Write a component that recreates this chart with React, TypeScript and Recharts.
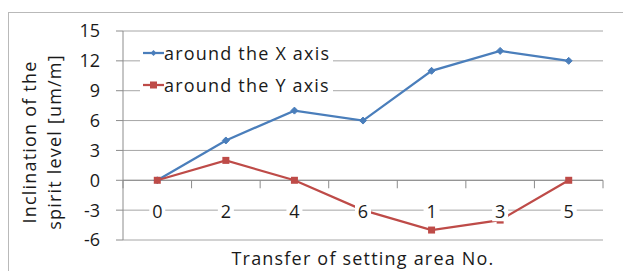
import React from 'react';
import {
  LineChart,
  Line,
  XAxis,
  YAxis,
  CartesianGrid,
  ReferenceLine,
  Label,
} from 'recharts';

const categories = ['0', '2', '4', '6', '1', '3', '5'];
const aroundX = [0, 4, 7, 6, 11, 13, 12];
const aroundY = [0, 2, 0, -3, -5, -4, 0];
const yTicks = [-6, -3, 0, 3, 6, 9, 12, 15];
const seriesNames = ['around the X axis', 'around the Y axis'];

const data = categories.map((c, i) => ({ area: c, x: aroundX[i], y: aroundY[i] }));

const FONT = '"Open Sans", sans-serif';
const FS = 18;
const SPACING = 1.2;
const BLUE = '#4a7ebb';
const RED = '#be4b48';
const GRID = '#a6a6a6';
const AXIS = '#8c8c8c';
const TEXT = '#1a1a1a';

const W = 623;
const H = 271;
const TOP = 31;
const BOTTOM = 31;
const PLOT_H = H - TOP - BOTTOM;
const Y_MIN = -6;
const Y_MAX = 15;

const Diamond = (props: any) => {
  const { cx, cy, index } = props;
  if (cx == null || cy == null) return <g key={index} />;
  return (
    <path
      key={index}
      d={`M${cx},${cy - 3.5}L${cx + 3.5},${cy}L${cx},${cy + 3.5}L${cx - 3.5},${cy}Z`}
      fill={BLUE}
      stroke={BLUE}
    />
  );
};

const Square = (props: any) => {
  const { cx, cy, index } = props;
  if (cx == null || cy == null) return <g key={index} />;
  return <rect key={index} x={cx - 3.5} y={cy - 3.5} width={7} height={7} fill={RED} />;
};

// category labels sit one step below the zero line, tick marks go on the zero line
const CategoryTick = (props: any) => {
  const { x, y, payload, index } = props;
  const half = payload?.offset ?? (W - 123 - 20) / categories.length / 2;
  const zeroY = y - ((0 - Y_MIN) / (Y_MAX - Y_MIN)) * PLOT_H;
  const labelY = zeroY + 31;
  return (
    <g>
      <line x1={x - half} x2={x - half} y1={zeroY} y2={zeroY + 8} stroke={AXIS} />
      {index === categories.length - 1 && (
        <line x1={x + half} x2={x + half} y1={zeroY} y2={zeroY + 8} stroke={AXIS} />
      )}
      <rect x={x - 8} y={labelY - 10} width={16} height={20} fill="#fff" />
      <text
        x={x}
        y={labelY}
        textAnchor="middle"
        dominantBaseline="central"
        fontSize={FS}
        fontFamily={FONT}
        fill={TEXT}
      >
        {payload.value}
      </text>
    </g>
  );
};

const LegendBox = () => (
  <div
    style={{
      position: 'absolute',
      left: 140,
      top: 35,
      background: '#fff',
      width: 193,
      padding: '2px 0',
      fontFamily: FONT,
      fontSize: FS,
      letterSpacing: SPACING,
      color: TEXT,
    }}
  >
    {[
      { name: seriesNames[0], color: BLUE, marker: 'diamond' },
      { name: seriesNames[1], color: RED, marker: 'square' },
    ].map((it) => (
      <div key={it.name} style={{ display: 'flex', alignItems: 'center', height: 32, whiteSpace: 'nowrap' }}>
        <svg width={21} height={10} style={{ marginLeft: 3, marginRight: 0, flex: 'none' }}>
          <line x1={0} x2={21} y1={5} y2={5} stroke={it.color} strokeWidth={2.25} />
          {it.marker === 'diamond' ? (
            <path d="M10.5,2L13.5,5L10.5,8L7.5,5Z" fill={it.color} />
          ) : (
            <rect x={7} y={1.5} width={7} height={7} fill={it.color} />
          )}
        </svg>
        <span>{it.name}</span>
      </div>
    ))}
  </div>
);

export default function App() {
  return (
    <div style={{ position: 'absolute', left: 0, top: 0, width: W, height: H, background: '#fff', overflow: 'hidden' }}>
      <div
        style={{
          position: 'absolute',
          left: 8,
          top: 12,
          width: W,
          height: H,
          borderLeft: '1px solid #b9b9b9',
          borderTop: '1px solid #b9b9b9',
        }}
      />
      <LineChart
        width={W}
        height={H}
        data={data}
        margin={{ top: TOP, right: 20, bottom: 0, left: 0 }}
        style={{ position: 'absolute', left: 0, top: 0 }}
      >
        <CartesianGrid vertical={false} stroke={GRID} />
        <YAxis
          type="number"
          domain={[Y_MIN, Y_MAX]}
          ticks={yTicks}
          interval={0}
          width={123}
          axisLine={{ stroke: AXIS }}
          tickLine={{ stroke: AXIS }}
          tickSize={7}
          tickMargin={16}
          tick={{ fontSize: FS, fontFamily: FONT, fill: TEXT }}
        >
          <Label
            content={() => (
              <text
                transform="translate(0,142) rotate(-90)"
                textAnchor="middle"
                fontSize={FS}
                fontFamily={FONT}
                fill={TEXT}
                style={{ letterSpacing: SPACING }}
              >
                <tspan x={0} y={36}>Inclination of the</tspan>
                <tspan x={0} y={61}>spirit level [um/m]</tspan>
              </text>
            )}
          />
        </YAxis>
        <ReferenceLine y={0} stroke={AXIS} />
        <Line
          dataKey="x"
          name={seriesNames[0]}
          stroke={BLUE}
          strokeWidth={2.25}
          dot={Diamond}
          activeDot={false}
          isAnimationActive={false}
        />
        <Line
          dataKey="y"
          name={seriesNames[1]}
          stroke={RED}
          strokeWidth={2.25}
          dot={Square}
          activeDot={false}
          isAnimationActive={false}
        />
        <XAxis
          dataKey="area"
          scale="band"
          interval={0}
          height={BOTTOM}
          axisLine={false}
          tickLine={false}
          tickSize={0}
          tickMargin={0}
          tick={<CategoryTick />}
        >
          <Label
            content={(p: any) => {
              const vb = p.viewBox || {};
              return (
                <text
                  x={vb.x + vb.width / 2}
                  y={H - 13}
                  textAnchor="middle"
                  dominantBaseline="central"
                  fontSize={FS}
                  fontFamily={FONT}
                  fill={TEXT}
                  style={{ letterSpacing: SPACING }}
                >
                  Transfer of setting area No.
                </text>
              );
            }}
          />
        </XAxis>
      </LineChart>
      <LegendBox />
    </div>
  );
}
